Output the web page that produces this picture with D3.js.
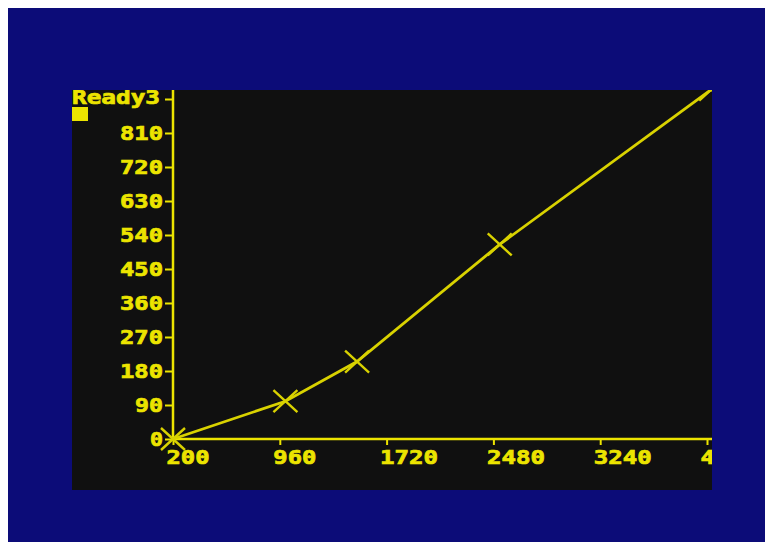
<!DOCTYPE html>
<html><head><meta charset="utf-8">
<script src="https://cdn.jsdelivr.net/npm/d3@7"></script>
<style>html,body{margin:0;padding:0;background:#fff;}svg{display:block;}</style>
</head><body>
<script>
const xValues = [200, 1000, 1510, 2525, 4030];
const yValues = [0, 100, 205, 515, 925];
const xTicks = [200, 960, 1720, 2480, 3240, 4000];
const yTicks = [0, 90, 180, 270, 360, 450, 540, 630, 720, 810, 900];
const yTickLabels = ["0","90","180","270","360","450","540","630","720","810",""];
const promptText = "Ready3";

const W = 765, H = 542;
const blue = "#0c0c78", black = "#101010", yellow = "#ece400", lineCol = "#d9d200";
const svg = d3.select("body").append("svg").attr("width", W).attr("height", H);
svg.append("rect").attr("x", 8).attr("y", 8).attr("width", W - 8).attr("height", H - 8).attr("fill", blue);
const panel = {x0: 72, y0: 90, x1: 712, y1: 490};
svg.append("rect").attr("x", panel.x0).attr("y", panel.y0).attr("width", panel.x1 - panel.x0).attr("height", panel.y1 - panel.y0).attr("fill", black);
svg.append("clipPath").attr("id", "clip").append("rect")
  .attr("x", panel.x0).attr("y", panel.y0).attr("width", panel.x1 - panel.x0).attr("height", panel.y1 - panel.y0);

const x = d3.scaleLinear().domain([200, 4000]).range([173, 707]);
const y = d3.scaleLinear().domain([0, 900]).range([439, 99]);

const g = svg.append("g").attr("clip-path", "url(#clip)");
const font = "'DejaVu Sans Mono', monospace";
const fs = 19, cw = 15;
function retro(sel) {
  sel.attr("fill", yellow).attr("stroke", yellow).attr("stroke-width", 0.7)
    .attr("font-family", font).attr("font-weight", "bold").attr("font-size", fs)
    .attr("lengthAdjust", "spacingAndGlyphs")
    .attr("textLength", function() { const n = this.textContent.length; return n ? n * cw - 2 : null; });
}

// axes
const yAxis = d3.axisLeft(y).tickValues(yTicks).tickSize(8).tickFormat((d, i) => yTickLabels[i]).tickPadding(2);
const ya = g.append("g").attr("transform", `translate(${x(200)},0)`).call(yAxis);
ya.select(".domain").attr("d", `M0,${panel.y0}V${y(0)}`).attr("stroke", yellow).attr("stroke-width", 2.5);
ya.selectAll(".tick line").attr("stroke", yellow).attr("stroke-width", 2);
ya.selectAll(".tick text").call(retro).attr("dy", "0.36em");

const xa = g.append("g").attr("transform", `translate(0,${y(0)})`)
  .call(d3.axisBottom(x).tickValues(xTicks).tickSize(6).tickFormat(d3.format("d")));
xa.select(".domain").attr("d", `M${x(200)},0H${panel.x1}`).attr("stroke", yellow).attr("stroke-width", 2.5);
xa.selectAll(".tick line").attr("stroke", yellow).attr("stroke-width", 2);
xa.selectAll(".tick text").call(retro).attr("text-anchor", "start").attr("x", -7).attr("y", 25).attr("dy", 0);

// line
const pts = xValues.map((v, i) => [v, yValues[i]]);
g.append("path").datum(pts)
  .attr("d", d3.line().x(d => x(d[0])).y(d => y(d[1])))
  .attr("fill", "none").attr("stroke", lineCol).attr("stroke-width", 2.8);

// X markers
const m = g.append("g");
pts.forEach(p => {
  const cx = x(p[0]), cy = y(p[1]);
  m.append("path").attr("d", `M${cx-12},${cy-11}L${cx+12},${cy+11}M${cx-12},${cy+11}L${cx+12},${cy-11}`)
    .attr("stroke", lineCol).attr("stroke-width", 2.4).attr("fill", "none");
});

// prompt
g.append("text").attr("x", panel.x0).attr("y", 104).text(promptText).call(retro);
g.append("rect").attr("x", 72).attr("y", 107).attr("width", 16).attr("height", 14).attr("fill", yellow);
</script>
</body></html>
